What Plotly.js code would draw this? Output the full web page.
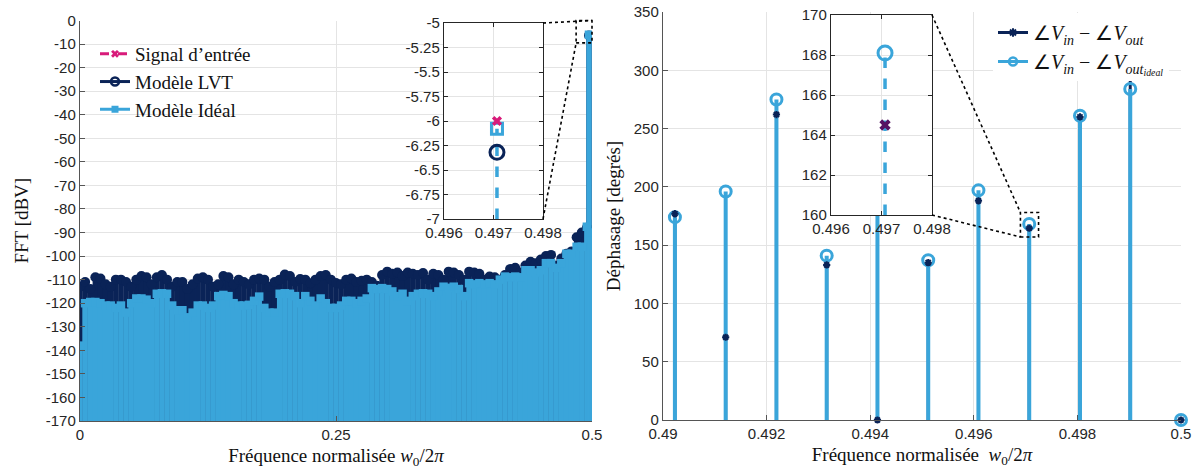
<!DOCTYPE html>
<html><head><meta charset="utf-8">
<script src="https://cdn.plot.ly/plotly-3.0.1.min.js"></script>
<style>html,body{margin:0;padding:0;background:#fff}#chart{width:1197px;height:470px}</style>
</head><body><div id="chart"></div>
<script>
// ---------- Left: FFT spectrum ----------
const fftFreq = [
 0,0.005,0.01,0.015,0.02,0.025,0.03,0.035,0.04,0.045,
 0.05,0.055,0.06,0.065,0.07,0.075,0.08,0.085,0.09,0.095,
 0.1,0.105,0.11,0.115,0.12,0.125,0.13,0.135,0.14,0.145,
 0.15,0.155,0.16,0.165,0.17,0.175,0.18,0.185,0.19,0.195,
 0.2,0.205,0.21,0.215,0.22,0.225,0.23,0.235,0.24,0.245,
 0.25,0.255,0.26,0.265,0.27,0.275,0.28,0.285,0.29,0.295,
 0.3,0.305,0.31,0.315,0.32,0.325,0.33,0.335,0.34,0.345,
 0.35,0.355,0.36,0.365,0.37,0.375,0.38,0.385,0.39,0.395,
 0.4,0.405,0.41,0.415,0.42,0.425,0.43,0.435,0.44,0.445,
 0.45,0.455,0.46,0.465,0.47,0.475,0.48,0.485,0.49,0.495,
 0.49707,0.4985,0.5];
const fftLVT = [
 -113,-111,-114,-109,-109.5,-112,-113,-110,-110,-111,
 -113,-110,-108.5,-109,-112,-109,-108,-110,-113,-111,
 -111,-114,-112,-109.5,-109,-110,-113,-112,-108.5,-109,
 -112,-110,-111,-112,-110,-109.5,-110,-113,-111,-110,
 -107.8,-108.5,-111,-109.7,-110,-111.5,-110,-108.5,-108,-110,
 -111.4,-112,-110,-109.5,-111,-110.5,-110,-111,-112.6,-108,
 -106.6,-107.5,-107,-108.5,-107,-107.5,-108,-107.2,-110,-107.5,
 -108,-110,-106.6,-107,-108,-110,-106.6,-107,-107.5,-110,
 -108.7,-109,-110,-108,-105.5,-105,-107,-104,-102.4,-103,
 -101.5,-100,-99.5,-104,-101,-99,-98,-92,-90,-88,
 -6.32,-89,-94];
const fftIdeal = [
 -138,-120,-119.5,-119.5,-120,-121,-121,-122,-121,-124,
 -120,-118,-118,-118.5,-120,-116,-115.8,-116,-121,-123,
 -123,-126,-124,-121,-121,-122,-121,-117,-116.5,-117,
 -120,-121,-121,-120.7,-119,-117.2,-122,-124,-124,-116,
 -115.8,-116,-117,-120,-117,-119,-121,-118,-120,-122,
 -122,-121,-119,-119,-120,-119,-118,-113.6,-114,-113.6,
 -114,-115,-117,-116,-119,-117,-116,-115.8,-116,-117,
 -115,-113,-113.5,-113,-114,-117,-111.5,-112,-111.5,-112,
 -111.5,-112,-110,-108.7,-109,-108.7,-109,-106,-106,-107,
 -106,-103,-103,-105,-103,-99,-99,-96,-96,-87.5,
 -6.08,-90,-95];
const sigFreq = [0.49707];
const sigVal = [-6.0];

// Left inset (zoom on the tone)
const zoomFreq = [0.49707];
const zoomSignal = [-6.0];
const zoomLVT = [-6.32];
const zoomIdeal = [-6.08];

// ---------- Right: phase ----------
const phaseFreq = [0.49023,0.49121,0.49219,0.49316,0.49414,0.49512,0.49609,0.49707,0.49805,0.49902,0.5];
const phaseLVT  = [177,71,262,133,0,135,188,164.5,260,295,0];
const phaseIdeal= [174,196,275,141,230,137,197,168.1,261,284,0];
const zoomPhaseFreq = [0.49707];
const zoomPhaseLVT = [164.5];
const zoomPhaseIdeal = [168.1];

// ---------- Tick arrays ----------
const leftXTicks = [0,0.25,0.5];
const leftYTicks = [0,-10,-20,-30,-40,-50,-60,-70,-80,-90,-100,-110,-120,-130,-140,-150,-160,-170];
const rightXTicks = [0.49,0.492,0.494,0.496,0.498,0.5];
const rightYTicks = [0,50,100,150,200,250,300,350];
const insetXTicks = [0.496,0.497,0.498];
const insetLYTicks = [-5,-5.25,-5.5,-5.75,-6,-6.25,-6.5,-6.75,-7];
const insetRYTicks = [160,162,164,166,168,170];

// ---------- Styles ----------
const NAVY = '#0a2357', LBLUE = '#3aa5da', PINK = '#d81b7a', PURPLE = '#561463';
const GRID = '#e4e4e4', AXLINE = '#555555', TICKC = '#262626';
const SANS = 'Liberation Sans, Arial, sans-serif';
const SERIF = 'Liberation Serif, Times New Roman, serif';
const W = 1197, H = 470;
const dom = {
  x:[80/W,592/W], y:[1-421/H,1-20.5/H],
  x2:[663/W,1181/W], y2:[1-420/H,1-12/H],
  x3:[444/W,543/W], y3:[1-219/H,1-23/H],
  x4:[831/W,932/W], y4:[1-215/H,1-15/H]
};
const rng = {x:[0,0.5], y:[-170,0], x2:[0.49,0.5], y2:[0,350], x3:[0.496,0.498], y3:[-7,-5], x4:[0.496,0.498], y4:[160,170]};

function stems(xs, ys, base){
  const X=[],Y=[];
  xs.forEach((x,i)=>{X.push(x,x,null);Y.push(base,ys[i],null);});
  return {X,Y};
}
function d2p(v, d, r){ return d[0] + (v-r[0])/(r[1]-r[0])*(d[1]-d[0]); }

const sL = stems(fftFreq, fftLVT, -170);
const sI = stems(fftFreq, fftIdeal, -170);
const sS = stems(sigFreq, sigVal, -170);
const pL = stems(phaseFreq, phaseLVT, 0);
const pI = stems(phaseFreq, phaseIdeal, 0);
const zI = stems(zoomFreq, zoomIdeal, -7);
const zpI = stems(zoomPhaseFreq, zoomPhaseIdeal, 160);

const traces = [
  // left main (input signal first, hidden under the models as in the original)
  {x:sS.X,y:sS.Y,mode:'lines',line:{color:PINK,width:2,dash:'dash'},showlegend:false,xaxis:'x',yaxis:'y'},
  {x:sigFreq,y:sigVal,mode:'markers',marker:{color:PINK,size:5,symbol:'circle'},showlegend:false,xaxis:'x',yaxis:'y'},
  {x:sL.X,y:sL.Y,mode:'lines',line:{color:NAVY,width:5.5},showlegend:false,xaxis:'x',yaxis:'y'},
  {x:fftFreq,y:fftLVT,mode:'markers',marker:{color:NAVY,size:10,symbol:'circle'},showlegend:false,xaxis:'x',yaxis:'y'},
  {x:sI.X,y:sI.Y,mode:'lines',line:{color:LBLUE,width:5.5},showlegend:false,xaxis:'x',yaxis:'y'},
  {x:fftFreq,y:fftIdeal,mode:'markers',marker:{color:LBLUE,size:8.5,symbol:'square'},showlegend:false,xaxis:'x',yaxis:'y'},
  // left legend entries
  {x:[null],y:[null],name:"Signal d\u2019entrée",mode:'lines+markers',line:{color:PINK,width:3,dash:'dash'},marker:{color:PINK,size:7,symbol:'x'},xaxis:'x',yaxis:'y',legend:'legend'},
  {x:[null],y:[null],name:'Modèle LVT',mode:'lines+markers',line:{color:NAVY,width:3},marker:{color:NAVY,size:8,symbol:'circle-open',line:{width:2.5}},xaxis:'x',yaxis:'y',legend:'legend'},
  {x:[null],y:[null],name:'Modèle Idéal',mode:'lines+markers',line:{color:LBLUE,width:3},marker:{color:LBLUE,size:7,symbol:'square'},xaxis:'x',yaxis:'y',legend:'legend'},
  // right main
  {x:pL.X,y:pL.Y,mode:'lines',line:{color:NAVY,width:3},showlegend:false,xaxis:'x2',yaxis:'y2'},
  {x:pI.X,y:pI.Y,mode:'lines',line:{color:LBLUE,width:4},showlegend:false,xaxis:'x2',yaxis:'y2'},
  {x:phaseFreq,y:phaseIdeal,mode:'markers',cliponaxis:false,marker:{color:LBLUE,size:11,symbol:'circle-open',line:{width:3}},showlegend:false,xaxis:'x2',yaxis:'y2'},
  {x:phaseFreq,y:phaseLVT,mode:'markers',cliponaxis:false,marker:{color:NAVY,size:6,symbol:'asterisk-open',line:{width:2,color:NAVY}},showlegend:false,xaxis:'x2',yaxis:'y2'},
  // right legend entries
  {x:[null],y:[null],name:'\u2220<i>V</i><sub><i>in</i></sub> \u2212 \u2220<i>V</i><sub><i>out</i></sub>',mode:'lines+markers',line:{color:NAVY,width:3},marker:{color:NAVY,size:7,symbol:'asterisk-open',line:{width:2,color:NAVY}},xaxis:'x2',yaxis:'y2',legend:'legend2'},
  {x:[null],y:[null],name:'\u2220<i>V</i><sub><i>in</i></sub> \u2212 \u2220<i>V</i><sub><i>out</i><sub><i>ideal</i></sub></sub>',mode:'lines+markers',line:{color:LBLUE,width:3},marker:{color:LBLUE,size:8,symbol:'circle-open',line:{width:2.5}},xaxis:'x2',yaxis:'y2',legend:'legend2'},
  // left inset
  {x:zI.X,y:zI.Y,mode:'lines',line:{color:LBLUE,width:3.5,dash:'dash'},showlegend:false,xaxis:'x3',yaxis:'y3'},
  {x:zoomFreq,y:zoomLVT,mode:'markers',marker:{color:NAVY,size:14,symbol:'circle-open',line:{width:3}},showlegend:false,xaxis:'x3',yaxis:'y3'},
  {x:zoomFreq,y:zoomIdeal,mode:'markers',marker:{color:LBLUE,size:11,symbol:'square-open',line:{width:3}},showlegend:false,xaxis:'x3',yaxis:'y3'},
  {x:zoomFreq,y:zoomSignal,mode:'markers',marker:{color:PINK,size:9,symbol:'x'},showlegend:false,xaxis:'x3',yaxis:'y3'},
  // right inset
  {x:zpI.X,y:zpI.Y,mode:'lines',line:{color:LBLUE,width:3.5,dash:'dash'},showlegend:false,xaxis:'x4',yaxis:'y4'},
  {x:zoomPhaseFreq,y:zoomPhaseIdeal,mode:'markers',marker:{color:LBLUE,size:14,symbol:'circle-open',line:{width:3}},showlegend:false,xaxis:'x4',yaxis:'y4'},
  {x:zoomPhaseFreq,y:zoomPhaseLVT,mode:'markers',marker:{color:PURPLE,size:10,symbol:'x'},showlegend:false,xaxis:'x4',yaxis:'y4'}
];

function mainAxis(k, ticks, extra){
  return Object.assign({
    domain: dom[k], range: rng[k], tickvals: ticks, ticktext: ticks.map(String),
    showgrid:true, gridcolor:GRID, gridwidth:1, zeroline:false,
    showline:true, linecolor:AXLINE, linewidth:1.2, ticks:'inside', ticklen:5, tickcolor:AXLINE,
    tickfont:{family:SANS,size:15,color:TICKC}, automargin:false, fixedrange:true
  }, extra);
}
function insetAxis(k, ticks, extra){
  return Object.assign({
    domain: dom[k], range: rng[k], tickvals: ticks, ticktext: ticks.map(String),
    showgrid:true, gridcolor:GRID, zeroline:false,
    showline:true, mirror:'ticks', linecolor:'#262626', linewidth:1.2, ticks:'inside', ticklen:4, tickcolor:'#262626',
    tickfont:{family:SANS,size:15,color:TICKC}, automargin:false, fixedrange:true
  }, extra);
}
const titleFont = {family:SERIF,size:19,color:'#111'};

// zoom boxes & connectors (paper coords)
const boxL = {x0:0.4845,x1:0.5,y0:-9.5,y1:0};
const boxR = {x0:0.4969,x1:0.49725,y0:157,y1:178};
function px(v,k){return d2p(v,dom[k],rng[k]);}
const dotLine = {color:'#000',width:1.6,dash:'dot'};
const shapes = [
  {type:'rect',xref:'paper',yref:'paper',x0:px(boxL.x0,'x'),x1:px(boxL.x1,'x'),y0:px(boxL.y0,'y'),y1:px(boxL.y1,'y'),line:dotLine},
  {type:'line',xref:'paper',yref:'paper',x0:dom.x3[1],y0:dom.y3[1],x1:px(boxL.x1,'x'),y1:px(boxL.y1,'y'),line:dotLine},
  {type:'line',xref:'paper',yref:'paper',x0:dom.x3[1],y0:dom.y3[0],x1:px(boxL.x0,'x'),y1:px(boxL.y0,'y'),line:dotLine},
  {type:'rect',xref:'paper',yref:'paper',x0:px(boxR.x0,'x2'),x1:px(boxR.x1,'x2'),y0:px(boxR.y0,'y2'),y1:px(boxR.y1,'y2'),line:dotLine},
  {type:'line',xref:'paper',yref:'paper',x0:dom.x4[1],y0:dom.y4[1],x1:px(boxR.x0,'x2'),y1:px(boxR.y1,'y2'),line:dotLine},
  {type:'line',xref:'paper',yref:'paper',x0:dom.x4[1],y0:dom.y4[0],x1:px(boxR.x0,'x2'),y1:px(boxR.y0,'y2'),line:dotLine}
];

const layout = {
  width:W, height:H, margin:{l:0,r:0,t:0,b:0},
  paper_bgcolor:'#fff', plot_bgcolor:'#fff', hovermode:false,
  xaxis: mainAxis('x', leftXTicks, {anchor:'y', title:{text:'Fréquence normalisée <i>w</i><sub>0</sub>/2<i>π</i>', font:titleFont, standoff:6}}),
  yaxis: mainAxis('y', leftYTicks, {anchor:'x', title:{text:'FFT [dBV]', font:titleFont, standoff:12}}),
  xaxis2: mainAxis('x2', rightXTicks, {anchor:'y2', title:{text:'Fréquence normalisée  <i>w</i><sub>0</sub>/2<i>π</i>', font:titleFont, standoff:6}}),
  yaxis2: mainAxis('y2', rightYTicks, {anchor:'x2', title:{text:'Déphasage [degrés]', font:titleFont, standoff:8}}),
  xaxis3: insetAxis('x3', insetXTicks, {anchor:'y3'}),
  yaxis3: insetAxis('y3', insetLYTicks, {anchor:'x3'}),
  xaxis4: insetAxis('x4', insetXTicks, {anchor:'y4'}),
  yaxis4: insetAxis('y4', insetRYTicks, {anchor:'x4'}),
  legend: {x:95/W, xanchor:'left', y:1-35/H, yanchor:'top', bgcolor:'rgba(255,255,255,0)', borderwidth:0,
           font:{family:SERIF,size:19,color:'#111'}, tracegroupgap:0},
  legend2: {x:993/W, xanchor:'left', y:1-13/H, yanchor:'top', bgcolor:'#fff', borderwidth:0,
           font:{family:SERIF,size:20,color:'#111'}, tracegroupgap:0},
  shapes: shapes
};
Plotly.newPlot('chart', traces, layout, {staticPlot:true, displayModeBar:false});
</script></body></html>
